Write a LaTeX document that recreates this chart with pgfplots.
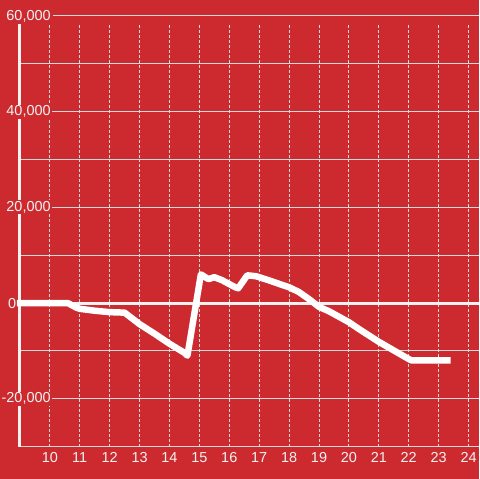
\documentclass[border=0pt]{standalone}
\usepackage{pgfplots}
\pgfplotsset{compat=1.18}
\usepackage{fontspec}
\setmainfont{Liberation Sans}
\definecolor{bgred}{RGB}{205,42,47}
\definecolor{gridgray}{RGB}{218,218,218}
\definecolor{txt}{RGB}{242,242,242}
\begin{document}
\begin{tikzpicture}
\path (-20pt,-32pt) rectangle (460pt,448pt);
\begin{axis}[
  at={(0pt,0pt)}, anchor=south west,
  scale only axis, width=460pt, height=424pt,
  xmin=9, xmax=24.3333, ymin=-30000, ymax=58333,
  axis x line=bottom, axis y line=left,
  x axis line style={gridgray, line width=1pt, -},
  y axis line style={txt, line width=3pt, -},
  xtick={10,...,24},
  ytick={-20000,20000,40000,60000},
  minor ytick={-10000,10000,30000,50000},
  extra y ticks={0},
  extra y tick style={grid=major, major y grid style={txt, line width=3pt, solid},
    yticklabel style={anchor=west, xshift=-45pt, fill=none}},
  major tick length=0pt, minor tick length=0pt,
  xmajorgrids, ymajorgrids, yminorgrids,
  major x grid style={gridgray, line width=1pt, dash pattern=on 3pt off 2pt},
  major y grid style={gridgray, line width=1pt},
  minor y grid style={gridgray, line width=1pt},
  tick label style={font=\fontsize{14.5}{17}\selectfont, text=txt},
  yticklabel style={anchor=east, xshift=32pt, fill=bgred, inner sep=1pt},
  xticklabel style={yshift=-2.7pt},
  scaled y ticks=false,
  /pgf/number format/1000 sep={,},
  /pgf/number format/assume math mode=true,
  clip=false, set layers,
]
\begin{pgfonlayer}{axis background}
\fill[bgred] (rel axis cs:-0.0434783,-0.0754717) rectangle (rel axis cs:1,1.0566038);
\end{pgfonlayer}
\draw[gridgray, line width=1pt] (axis cs:10.1,60000) -- (axis cs:24.3333,60000);
\node[anchor=east, inner sep=1pt, text=txt, font=\fontsize{14.5}{17}\selectfont, xshift=32pt] at (axis cs:9,60000) {60,000};
\addplot[white, line width=6.5pt, line join=round] coordinates {
(8.9,0) (10.6,0) (10.9,-1000) (11.0,-1200) (11.5,-1600) (12.0,-1900) (12.5,-2000)
(13.0,-4400) (13.5,-6400) (14.0,-8500) (14.5,-10400) (14.6,-11000)
(15.05,6000) (15.3,5000) (15.5,5400) (15.75,4800) (16.2,3300) (16.3,3100)
(16.6,5800) (16.9,5600) (17.3,4800) (17.67,4000) (18.0,3300) (18.33,2300)
(18.67,800) (19.0,-800) (19.33,-1700) (20.0,-4000) (20.33,-5400) (21.0,-8100)
(22.0,-11700) (22.1,-12000) (23.4,-12000)
};
\end{axis}
\end{tikzpicture}
\end{document}
